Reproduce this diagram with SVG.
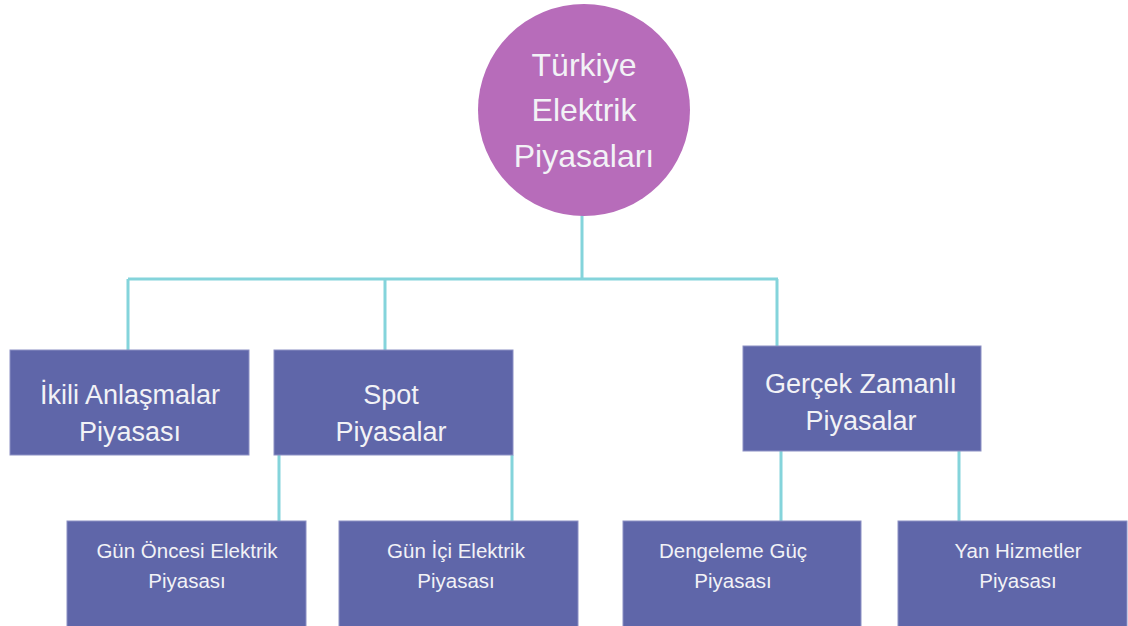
<svg xmlns="http://www.w3.org/2000/svg" width="1128" height="626" viewBox="0 0 1128 626">
<style>
.box{fill:#5f66a9;stroke:#8c90c4;stroke-width:1}
.t{font-family:"Liberation Sans",Arial,sans-serif;fill:#f2f2f6;text-anchor:middle}
.t1{font-size:32px}
.t2{font-size:27px}
.t3{font-size:20.5px}
.c{stroke:#84d4db;stroke-width:3;fill:none}
</style>
<rect width="1128" height="626" fill="#ffffff"/>
<g id="connectors">
<path class="c" d="M582 214V279M128 279H778M128 279V350M385 279V350M777 279V346"/>
<path class="c" d="M279 455V521M512 455V521M781 451V521M959 451V521"/>
</g>
<g id="root">
<circle cx="584" cy="110" r="106" fill="#b76cba"/>
<text class="t t1" x="584" y="76">Türkiye</text>
<text class="t t1" x="584" y="121">Elektrik</text>
<text class="t t1" x="584" y="167">Piyasaları</text>
</g>
<g id="ikili">
<rect class="box" x="10" y="350" width="239" height="105"/>
<text class="t t2" x="130" y="404">İkili Anlaşmalar</text>
<text class="t t2" x="130" y="441">Piyasası</text>
</g>
<g id="spot">
<rect class="box" x="274" y="350" width="239" height="105"/>
<text class="t t2" x="391" y="404">Spot</text>
<text class="t t2" x="391" y="441">Piyasalar</text>
</g>
<g id="gercek">
<rect class="box" x="743" y="346" width="238" height="105"/>
<text class="t t2" x="861" y="393">Gerçek Zamanlı</text>
<text class="t t2" x="861" y="430">Piyasalar</text>
</g>
<g id="gunoncesi">
<rect class="box" x="67" y="521" width="239" height="110"/>
<text class="t t3" x="187" y="558">Gün Öncesi Elektrik</text>
<text class="t t3" x="187" y="588">Piyasası</text>
</g>
<g id="gunici">
<rect class="box" x="339" y="521" width="239" height="110"/>
<text class="t t3" x="456" y="558">Gün İçi Elektrik</text>
<text class="t t3" x="456" y="588">Piyasası</text>
</g>
<g id="dengeleme">
<rect class="box" x="623" y="521" width="238" height="110"/>
<text class="t t3" x="733" y="558">Dengeleme Güç</text>
<text class="t t3" x="733" y="588">Piyasası</text>
</g>
<g id="yan">
<rect class="box" x="898" y="521" width="229" height="110"/>
<text class="t t3" x="1018" y="558">Yan Hizmetler</text>
<text class="t t3" x="1018" y="588">Piyasası</text>
</g>
</svg>
